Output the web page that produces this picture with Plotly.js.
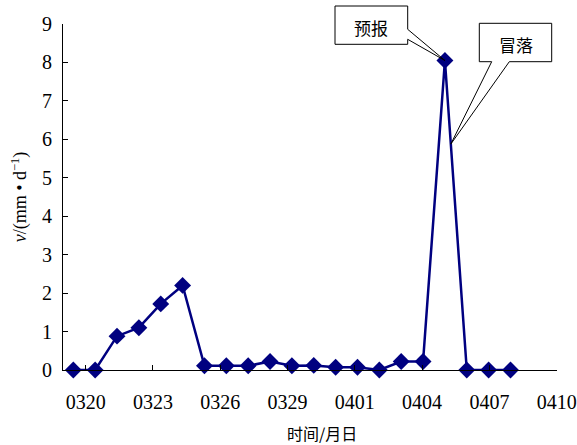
<!DOCTYPE html>
<html><head><meta charset="utf-8">
<script src="https://cdn.plot.ly/plotly-3.0.1.min.js"></script>
<style>html,body{margin:0;padding:0;background:#fff}</style>
</head><body>
<div id="chart" style="width:577px;height:445px"></div>
<script>
// ---- data ----
const dates = ['0320','0321','0322','0323','0324','0325','0326','0327','0328','0329','0330','0331','0401','0402','0403','0404','0405','0406','0407','0408','0409'];
const values = [0, 0, 0.88, 1.10, 1.72, 2.20, 0.11, 0.11, 0.11, 0.22, 0.11, 0.12, 0.07, 0.07, 0.00, 0.22, 0.22, 8.05, 0, 0, 0];
const tickLabels = ['0320','0323','0326','0329','0401','0404','0407','0410'];
const yTicks = [0,1,2,3,4,5,6,7,8,9];
const calloutTexts = ['预报','冒落'];
const xTitle = '时间/月日';
const yTitle = '<i>v</i>/(mm • d<sup>−1</sup>)';

// ---- layout constants ----
const M = {l:63, r:20, t:24, b:75};
const W = 577 - M.l - M.r, H = 445 - M.t - M.b;
const xRange = [-0.471, 22.127];
const yRange = [0, 9];
const tickStart = 0.567, tickStep = 3.078;
const xIdx = dates.map((d,i)=>i);
const tickVals = tickLabels.map((t,k)=>tickStart + k*tickStep);

const serif = 'Liberation Serif';
const cjk = 'Noto Sans CJK SC';
const navy = '#000080';

const pxX = px => (px - M.l)/W;
const pxY = py => 1 - (py - M.t)/H;
const dX = x => (x - xRange[0])/(xRange[1]-xRange[0]);
const dY = y => (y - yRange[0])/(yRange[1]-yRange[0]);

// peak index & tips
const peak = values.indexOf(Math.max(...values));
const tip1 = [dX(peak), dY(values[peak])];
const f = 0.27;
const tip2 = [dX(peak + f), dY(values[peak] + f*(values[peak+1]-values[peak]))];

function boxOpenRight(x0,y0,x1,y1,yA,yB){
  return `M${pxX(x1)},${pxY(yA)} L${pxX(x1)},${pxY(y0)} L${pxX(x0)},${pxY(y0)} L${pxX(x0)},${pxY(y1)} L${pxX(x1)},${pxY(y1)} L${pxX(x1)},${pxY(yB)}`;
}
function boxOpenBottom(x0,y0,x1,y1,xA,xB){
  return `M${pxX(xA)},${pxY(y1)} L${pxX(x0)},${pxY(y1)} L${pxX(x0)},${pxY(y0)} L${pxX(x1)},${pxY(y0)} L${pxX(x1)},${pxY(y1)} L${pxX(xB)},${pxY(y1)}`;
}
const b1 = {x0:335, y0:6, x1:407.7, y1:44.3, a:29.3, b:39.3};
const b2 = {x0:479.3, y0:23.3, x1:551.7, y1:61.7, a:491.7, b:509.3};

const shapes = [
  {type:'path', xref:'paper', yref:'paper', layer:'above',
   path: boxOpenRight(b1.x0,b1.y0,b1.x1,b1.y1,b1.a,b1.b),
   fillcolor:'#fff', line:{color:'#000', width:1}},
  {type:'path', xref:'paper', yref:'paper', layer:'above',
   path:`M${pxX(b1.x1)},${pxY(b1.a)} L${tip1[0]},${tip1[1]} L${pxX(b1.x1)},${pxY(b1.b)}`,
   fillcolor:'rgba(0,0,0,0)', line:{color:'#000', width:1}},
  {type:'path', xref:'paper', yref:'paper', layer:'above',
   path: boxOpenBottom(b2.x0,b2.y0,b2.x1,b2.y1,b2.a,b2.b),
   fillcolor:'#fff', line:{color:'#000', width:1}},
  {type:'path', xref:'paper', yref:'paper', layer:'above',
   path:`M${pxX(b2.a)},${pxY(b2.y1)} L${tip2[0]},${tip2[1]} L${pxX(b2.b)},${pxY(b2.y1)}`,
   fillcolor:'rgba(0,0,0,0)', line:{color:'#000', width:1}}
];

const annotations = [
  {text:calloutTexts[0], xref:'paper', yref:'paper', xanchor:'center', yanchor:'middle',
   x:pxX((b1.x0+b1.x1)/2), y:pxY((b1.y0+b1.y1)/2+2),
   showarrow:false, font:{family:cjk, size:17, color:'#000'}},
  {text:calloutTexts[1], xref:'paper', yref:'paper', xanchor:'center', yanchor:'middle',
   x:pxX((b2.x0+b2.x1)/2), y:pxY((b2.y0+b2.y1)/2+2),
   showarrow:false, font:{family:cjk, size:17, color:'#000'}},
  {text:xTitle, xref:'paper', yref:'paper', xanchor:'center', yanchor:'middle',
   x:pxX(322), y:pxY(433), showarrow:false,
   font:{family:cjk, size:16, color:'#000'}}
];

const trace = {
  x: xIdx, y: values, type:'scatter', mode:'lines+markers',
  line:{color:navy, width:2.5},
  marker:{symbol:'diamond', size:13, color:navy},
  cliponaxis:false, hoverinfo:'skip'
};

const layout = {
  width:577, height:445,
  margin:M,
  paper_bgcolor:'#fff', plot_bgcolor:'#fff',
  showlegend:false,
  font:{family:serif, color:'#000'},
  xaxis:{range:xRange, tickmode:'array', tickvals:tickVals, ticktext:tickLabels,
    ticks:'inside', ticklen:5, tickcolor:'#000', showgrid:false, zeroline:false,
    showline:true, linecolor:'#000', linewidth:1,
    tickfont:{family:serif, size:20, color:'#000'}, ticklabelstandoff:14},
  yaxis:{range:yRange, tickmode:'array', tickvals:yTicks,
    ticks:'inside', ticklen:5, tickcolor:'#000', showgrid:false, zeroline:false,
    showline:true, linecolor:'#000', linewidth:1,
    tickfont:{family:serif, size:20, color:'#000'}, ticklabelstandoff:6,
    title:{text:yTitle, font:{family:serif, size:18, color:'#000'}, standoff:10}},
  shapes, annotations
};
Plotly.newPlot('chart', [trace], layout, {displayModeBar:false, staticPlot:true});
</script>
</body></html>
